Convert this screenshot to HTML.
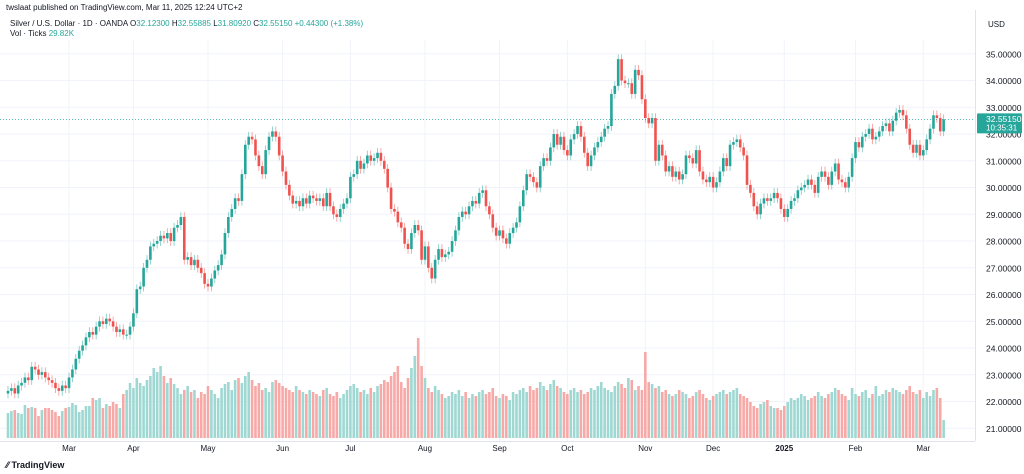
<!DOCTYPE html>
<html><head><meta charset="utf-8"><style>
body{margin:0;background:#fff;font-family:"Liberation Sans",sans-serif;}
#wrap{position:relative;width:1024px;height:474px;overflow:hidden;}
svg text{font-family:"Liberation Sans",sans-serif;}
</style></head><body>
<div id="wrap">
<svg id="chart" width="1024" height="474"></svg>
</div>
<script>
const closes=[22.4,22.5,22.3,22.6,22.7,22.9,22.8,23.3,23.2,23.0,23.1,
22.9,22.8,22.7,22.5,22.4,22.6,22.5,22.9,23.2,23.6,
23.9,24.1,24.4,24.6,24.5,24.8,25.0,24.9,25.1,25.0,
24.8,24.6,24.7,24.5,24.5,24.8,25.3,26.2,26.3,27.0,
27.3,27.8,27.9,28.0,28.2,28.1,28.3,28.0,28.5,28.6,
28.9,27.3,27.4,27.1,27.3,27.0,26.8,26.4,26.3,26.6,
26.9,27.1,27.5,28.3,28.9,29.2,29.6,29.5,30.5,31.6,
31.9,31.8,31.2,30.8,30.5,31.4,31.9,32.1,31.9,31.2,
30.6,30.1,29.7,29.4,29.5,29.3,29.6,29.4,29.7,29.6,
29.5,29.6,29.3,29.8,29.3,29.0,28.9,29.2,29.4,29.6,
30.4,30.5,31.0,30.7,30.9,31.2,31.0,31.1,31.3,31.0,
30.7,30.0,29.2,29.1,28.7,28.5,27.9,27.7,28.3,28.6,
28.4,27.3,27.8,27.0,26.6,27.3,27.7,27.4,27.5,27.6,
28.0,28.4,28.9,29.1,29.0,29.3,29.5,29.4,29.8,29.9,
29.3,29.0,28.5,28.2,28.4,28.1,27.9,28.3,28.5,28.7,
29.3,29.9,30.5,30.4,30.2,30.0,30.8,31.1,31.0,31.5,
32.0,31.6,31.9,31.4,31.2,31.8,32.0,32.3,31.9,31.3,
30.8,31.2,31.5,31.7,31.9,32.2,32.3,33.5,33.8,34.8,
34.0,33.9,33.9,33.5,34.4,34.2,33.3,32.6,32.4,32.6,
31.0,31.6,31.2,30.6,30.8,30.4,30.6,30.3,30.5,31.2,
31.1,30.9,31.4,30.6,30.3,30.2,30.4,30.0,30.2,30.6,
31.1,30.8,31.6,31.7,31.8,31.5,31.2,30.1,29.8,29.3,
29.0,29.4,29.6,29.5,29.6,29.8,29.6,29.2,28.9,29.2,
29.5,29.6,29.9,30.0,30.1,30.3,30.1,29.8,30.4,30.6,
30.4,30.1,30.6,30.9,30.3,30.2,30.0,30.4,31.1,31.7,
31.5,31.9,32.0,32.2,31.8,31.9,32.1,32.3,32.4,32.1,
32.5,32.8,32.9,32.7,32.2,31.6,31.3,31.6,31.2,31.4,
31.8,32.2,32.7,32.6,32.1,32.55];
const volumes=[25,27,28,25,24,33,30,31,30,22,28,30,30,28,26,22,27,30,31,35,
33,26,28,32,32,40,38,40,30,34,32,36,34,30,44,48,55,50,60,55,
52,58,62,70,66,72,62,55,60,54,50,44,48,52,46,48,40,46,44,52,
48,44,40,50,54,56,48,58,60,55,62,66,58,52,55,48,50,46,56,58,
55,52,50,48,46,52,48,46,44,48,46,44,42,48,50,44,42,46,40,44,
48,52,54,50,46,48,44,50,46,52,54,58,56,62,66,72,56,50,60,70,
82,100,72,60,50,46,52,48,44,40,42,46,44,48,42,46,40,44,42,46,
48,44,46,50,42,40,44,42,38,46,44,48,50,46,52,48,50,56,52,48,
54,58,52,50,46,44,48,50,46,48,44,46,50,48,52,56,50,48,46,52,
56,54,50,60,58,48,52,48,86,56,54,50,52,46,48,44,42,44,48,46,
44,40,42,46,48,44,40,38,42,44,46,48,44,46,48,50,44,42,40,36,
32,30,34,36,38,32,30,30,28,32,36,40,38,40,44,42,38,40,42,46,
42,40,44,46,50,48,44,42,38,50,44,42,46,48,40,44,52,42,44,48,
46,50,48,46,44,48,52,46,44,48,40,46,42,48,50,40,18];
const priceTicks=[35,34,33,32,31,30,29,28,27,26,25,24,23,22,21];
const monthLabels=["Mar","Apr","May","Jun","Jul","Aug","Sep","Oct","Nov","Dec","2025","Feb","Mar"];
const monthIdx=[18,37,59,81,101,123,145,165,188,208,229,250,270];
const firstOpen=22.3;

const NS="http://www.w3.org/2000/svg";
const svg=document.getElementById('chart');
const X=i=>8+3.39*i;
const Y=p=>53.8+(35-p)*26.75;
const VB=438, VS=1.0;
function mk(t,a,parent){const e=document.createElementNS(NS,t);for(const k in a)e.setAttribute(k,a[k]);(parent||svg).appendChild(e);return e;}

// grid
priceTicks.forEach(p=>{
  const l=mk('line',{x1:0,x2:975,y1:Y(p),y2:Y(p),stroke:'#f0f3fa','stroke-width':1});
  
  
  const t=mk('text',{x:986,y:Y(p)+3.5,'font-size':8.5,fill:'#131722'});
  t.textContent=p.toFixed(5);
  
  
});
monthIdx.forEach((i,k)=>{
  const l=mk('line',{x1:X(i),x2:X(i),y1:40,y2:441,stroke:'#f0f3fa','stroke-width':1});
  
  
  const t=mk('text',{x:X(i),y:451,'font-size':8,fill:'#131722','text-anchor':'middle','font-weight':monthLabels[k]==='2025'?'bold':'normal'});
  t.textContent=monthLabels[k];
  
  
});
// axes borders
const ab=mk('line',{x1:975.5,x2:975.5,y1:10,y2:441,stroke:'#e0e3eb'});


const tb=mk('line',{x1:0,x2:975,y1:441.5,y2:441.5,stroke:'#e0e3eb'});



// volume
volumes.forEach((v,i)=>{
  const o=i?closes[i-1]:firstOpen, c=closes[i];
  const r=mk('rect',{x:X(i)-1.3,y:VB-v*VS,width:2.6,height:v*VS,fill:c>=o?'#9fd8d2':'#f7a9a7'});
  
  
});
// last price line
const lp=mk('line',{x1:0,x2:975,y1:Y(closes[closes.length-1]),y2:Y(closes[closes.length-1]),stroke:'#26a69a','stroke-dasharray':'1 2','stroke-width':0.8});


// candles
closes.forEach((c,i)=>{
  const o=i?closes[i-1]:firstOpen;
  const up=c>=o, col=up?'#26a69a':'#ef5350';
  const hi=Math.max(o,c)+0.18, lo=Math.min(o,c)-0.18;
  const w=mk('line',{x1:X(i),x2:X(i),y1:Y(hi),y2:Y(lo),stroke:col,'stroke-width':0.8,opacity:0.6});
  
  
  const b=mk('rect',{x:X(i)-1.3,y:Y(Math.max(o,c)),width:2.6,height:Math.max(1,Math.abs(Y(o)-Y(c))),fill:col});
  
  
});
// last price label
const ly=Y(closes[closes.length-1]);
const lb=mk('rect',{x:977,y:ly-6,width:45,height:20,fill:'#26a69a',rx:1});


const lt=mk('text',{x:986,y:ly+2.5,'font-size':8.5,fill:'#fff'});lt.textContent='32.55150';


const lt2=mk('text',{x:986,y:ly+11,'font-size':8,fill:'#fff'});lt2.textContent='10:35:31';


// header
const usd=mk('text',{x:988,y:27,'font-size':8,fill:'#131722'});usd.textContent='USD';


const h0=mk('text',{x:6,y:10,'font-size':8,fill:'#131722'});h0.textContent='twslaat published on TradingView.com, Mar 11, 2025 12:24 UTC+2';


const h1=mk('text',{x:10,y:26,'font-size':8,fill:'#131722'});


h1.innerHTML='Silver / U.S. Dollar · 1D · OANDA  O<tspan fill="#26a69a">32.12300</tspan>  H<tspan fill="#26a69a">32.55885</tspan>  L<tspan fill="#26a69a">31.80920</tspan>  C<tspan fill="#26a69a">32.55150 +0.44300 (+1.38%)</tspan>';
const h2=mk('text',{x:10,y:36,'font-size':8,fill:'#131722'});


h2.innerHTML='Vol · Ticks  <tspan fill="#26a69a">29.82K</tspan>';
const logo=mk('text',{x:6,y:468,'font-size':9,fill:'#131722','font-weight':'bold'});logo.textContent='⁄⁄ TradingView';


</script>
</body></html>
